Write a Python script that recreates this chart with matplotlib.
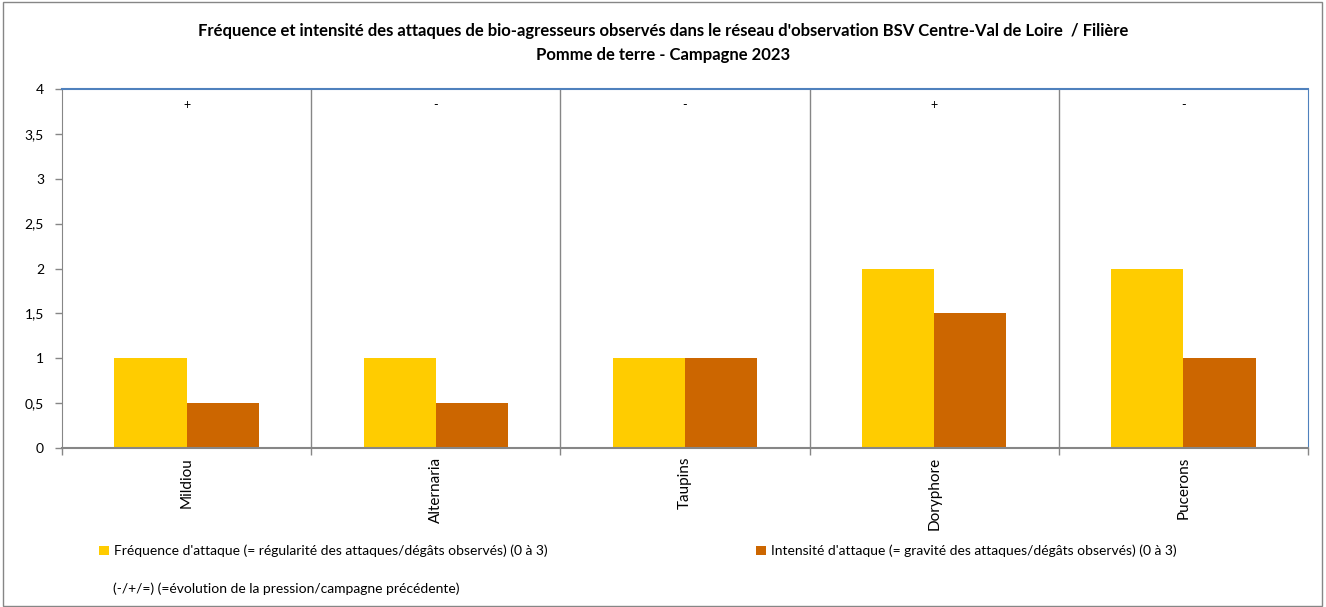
import matplotlib.pyplot as plt
import numpy as np
from matplotlib.patches import Rectangle

plt.rcParams['font.family'] = ['Lato', 'DejaVu Sans']

# data
categories = ["Mildiou", "Alternaria", "Taupins", "Doryphore", "Pucerons"]
frequence = [1, 1, 1, 2, 2]
intensite = [0.5, 0.5, 1, 1.5, 1]
evolution = ["+", "-", "-", "+", "-"]

yticks = [0, 0.5, 1, 1.5, 2, 2.5, 3, 3.5, 4]
yticklabels = ["0", "0,5", "1", "1,5", "2", "2,5", "3", "3,5", "4"]

title = ("Fréquence et intensité des attaques de bio-agresseurs observés dans le réseau "
         "d'observation BSV Centre-Val de Loire  / Filière\nPomme de terre - Campagne 2023")
label_freq = "Fréquence d'attaque (= régularité des attaques/dégâts observés) (0 à 3)"
label_int = "Intensité d'attaque (= gravité des attaques/dégâts observés) (0 à 3)"
note = "(-/+/=) (=évolution de la pression/campagne précédente)"

col_freq = "#FFCC00"
col_int = "#CC6600"
grey = "#868686"
blue = "#4F81BD"

fig = plt.figure(figsize=(13.26, 6.07), dpi=100)
# outer frame of the chart
fig.patches.append(Rectangle((0.002, 0.002), 0.995, 0.994, transform=fig.transFigure,
                             fill=False, edgecolor=grey, linewidth=1))

ax = fig.add_axes([62 / 1326, 1 - 448 / 607, (1308 - 62) / 1326, (448 - 89) / 607])

x = np.arange(len(categories))
w = 0.29
b1 = ax.bar(x - w / 2, frequence, w, color=col_freq)
b2 = ax.bar(x + w / 2, intensite, w, color=col_int)

for i, s in enumerate(evolution):
    ax.text(x[i], 3.82, s, ha="center", va="center", fontsize=9)

ax.set_xlim(-0.5, len(categories) - 0.5)
ax.set_ylim(0, 4)
ax.set_yticks(yticks)
ax.set_yticklabels(yticklabels, fontsize=10)

# category separators
bounds = np.arange(len(categories) + 1) - 0.5
ax.set_xticks(bounds)
ax.set_xticklabels([""] * len(bounds))
ax.tick_params(axis="x", length=5, color=grey, width=1)
ax.tick_params(axis="y", length=5, color=grey, width=1, pad=8)
for b in bounds[1:-1]:
    ax.axvline(b, color=grey, linewidth=1)
for i, c in enumerate(categories):
    ax.text(x[i], -0.1, c, rotation=90, ha="center", va="top", fontsize=11)

ax.spines["left"].set_color(grey)
ax.spines["bottom"].set_color(grey)
ax.spines["bottom"].set_linewidth(1.5)
ax.spines["top"].set_color(blue)
ax.spines["top"].set_linewidth(1.5)
ax.spines["right"].set_color(blue)

fig.text(0.5, 1 - 43 / 607, title, ha="center", va="center", fontsize=12, fontweight="bold",
         linespacing=1.55)

leg_kw = dict(frameon=False, fontsize=10, handlelength=0.7, handleheight=0.7,
              handletextpad=0.4, borderpad=0, borderaxespad=0)
fig.legend([b1], [label_freq], loc="center left",
           bbox_to_anchor=(99 / 1326, 1 - 551 / 607), **leg_kw)
fig.legend([b2], [label_int], loc="center left",
           bbox_to_anchor=(756 / 1326, 1 - 551 / 607), **leg_kw)
fig.text(113 / 1326, 1 - 589 / 607, note, ha="left", va="center", fontsize=10)

fig.savefig("out.png", dpi=100)
